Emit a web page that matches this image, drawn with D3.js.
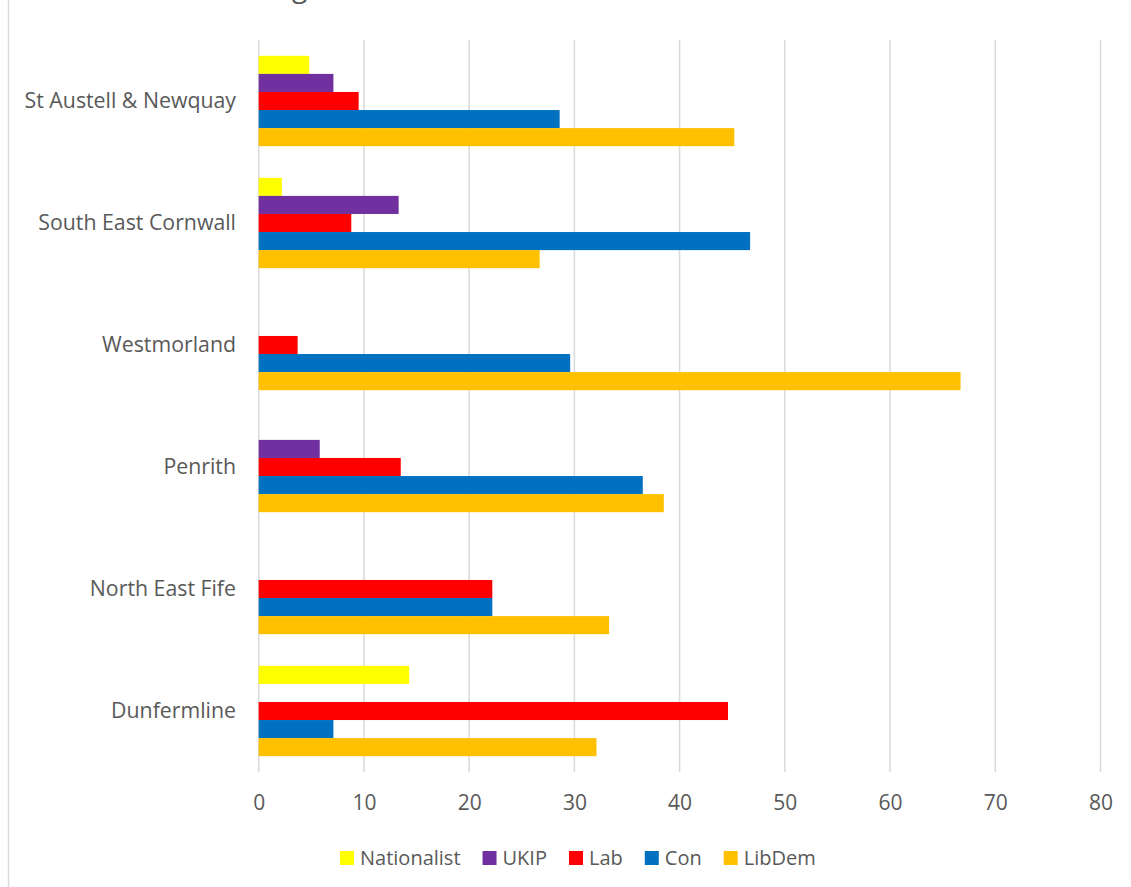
<!DOCTYPE html>
<html>
<head>
<meta charset="utf-8">
<script src="https://cdn.jsdelivr.net/npm/d3@7"></script>
<style>
  html, body { margin: 0; padding: 0; background: #ffffff; }
  svg { display: block; }
</style>
</head>
<body>
<svg id="chart" width="1131" height="887"></svg>
<script>
// ---------- data ----------
const categories = ["St Austell & Newquay", "South East Cornwall", "Westmorland", "Penrith", "North East Fife", "Dunfermline"];
const seriesNames = ["Nationalist", "UKIP", "Lab", "Con", "LibDem"];
const seriesColors = ["#FFFF00", "#7030A0", "#FF0000", "#0070C0", "#FFC000"];
const nationalist = [4.8, 2.2, null, null, null, 14.3];
const ukip        = [7.1, 13.3, null, 5.8, null, null];
const lab         = [9.5, 8.8, 3.7, 13.5, 22.2, 44.6];
const con         = [28.6, 46.7, 29.6, 36.5, 22.2, 7.1];
const libdem      = [45.2, 26.7, 66.7, 38.5, 33.3, 32.1];
const xTicks = [0, 10, 20, 30, 40, 50, 60, 70, 80];

const seriesValues = [nationalist, ukip, lab, con, libdem];

// ---------- layout ----------
const svg = d3.select("#chart");
const font = "'Open Sans', 'DejaVu Sans', sans-serif";
const textColor = "#595959";
const gridColor = "#d9d9d9";

// chart border (left edge visible)
svg.append("line")
  .attr("x1", 8.5).attr("x2", 8.5).attr("y1", 0).attr("y2", 887)
  .attr("stroke", gridColor).attr("stroke-width", 1.5);

// clipped title fragment (the reference shows only this descender)
svg.append("text")
  .attr("x", 292).attr("y", -3)
  .attr("font-family", font).attr("font-size", 28).attr("fill", textColor)
  .text("g");

const x = d3.scaleLinear().domain([0, 80]).range([258.7, 1100.5]);
const y = d3.scaleBand().domain(categories).range([40, 772]).padding(0);
const ySub = d3.scaleBand().domain(seriesNames).range([0, y.bandwidth()]).paddingInner(0).paddingOuter(0.875);
const color = d3.scaleOrdinal().domain(seriesNames).range(seriesColors);

// gridlines
svg.append("g").selectAll("line").data(xTicks).join("line")
  .attr("x1", d => x(d)).attr("x2", d => x(d))
  .attr("y1", 40).attr("y2", 772)
  .attr("stroke", gridColor).attr("stroke-width", 1.5);

// bars
const rows = [];
categories.forEach((c, i) => {
  seriesNames.forEach((s, j) => {
    const v = seriesValues[j][i];
    if (v != null) rows.push({ cat: c, series: s, value: v });
  });
});

svg.append("g").selectAll("rect").data(rows).join("rect")
  .attr("x", x(0))
  .attr("y", d => y(d.cat) + ySub(d.series))
  .attr("width", d => x(d.value) - x(0))
  .attr("height", ySub.bandwidth())
  .attr("fill", d => color(d.series));

// x axis labels
const xAxis = d3.axisBottom(x).tickValues(xTicks).tickSize(0).tickPadding(0).tickFormat(d3.format("d"));
const xg = svg.append("g").attr("transform", "translate(0,795)").call(xAxis);
xg.select(".domain").remove();
xg.selectAll("text")
  .attr("font-family", font).attr("font-size", 21).attr("fill", textColor)
  .attr("dy", "0.72em");

// y axis labels
const yAxis = d3.axisLeft(y).tickSize(0).tickPadding(0);
const yg = svg.append("g").attr("transform", "translate(236,0)").call(yAxis);
yg.select(".domain").remove();
yg.selectAll("text")
  .attr("font-family", font).attr("font-size", 21.3).attr("fill", textColor)
  .attr("dy", "0.35em");

// legend
const legend = svg.append("g");
let lx = 340;
seriesNames.forEach((s, j) => {
  const g = legend.append("g");
  g.append("rect").attr("x", lx).attr("y", 851).attr("width", 14).attr("height", 14).attr("fill", seriesColors[j]);
  const t = g.append("text").attr("x", lx + 20).attr("y", 858)
    .attr("dy", "0.36em")
    .attr("font-family", font).attr("font-size", 20).attr("fill", textColor)
    .text(s);
  lx = lx + 20 + t.node().getComputedTextLength() + 22;
});
</script>
</body>
</html>
